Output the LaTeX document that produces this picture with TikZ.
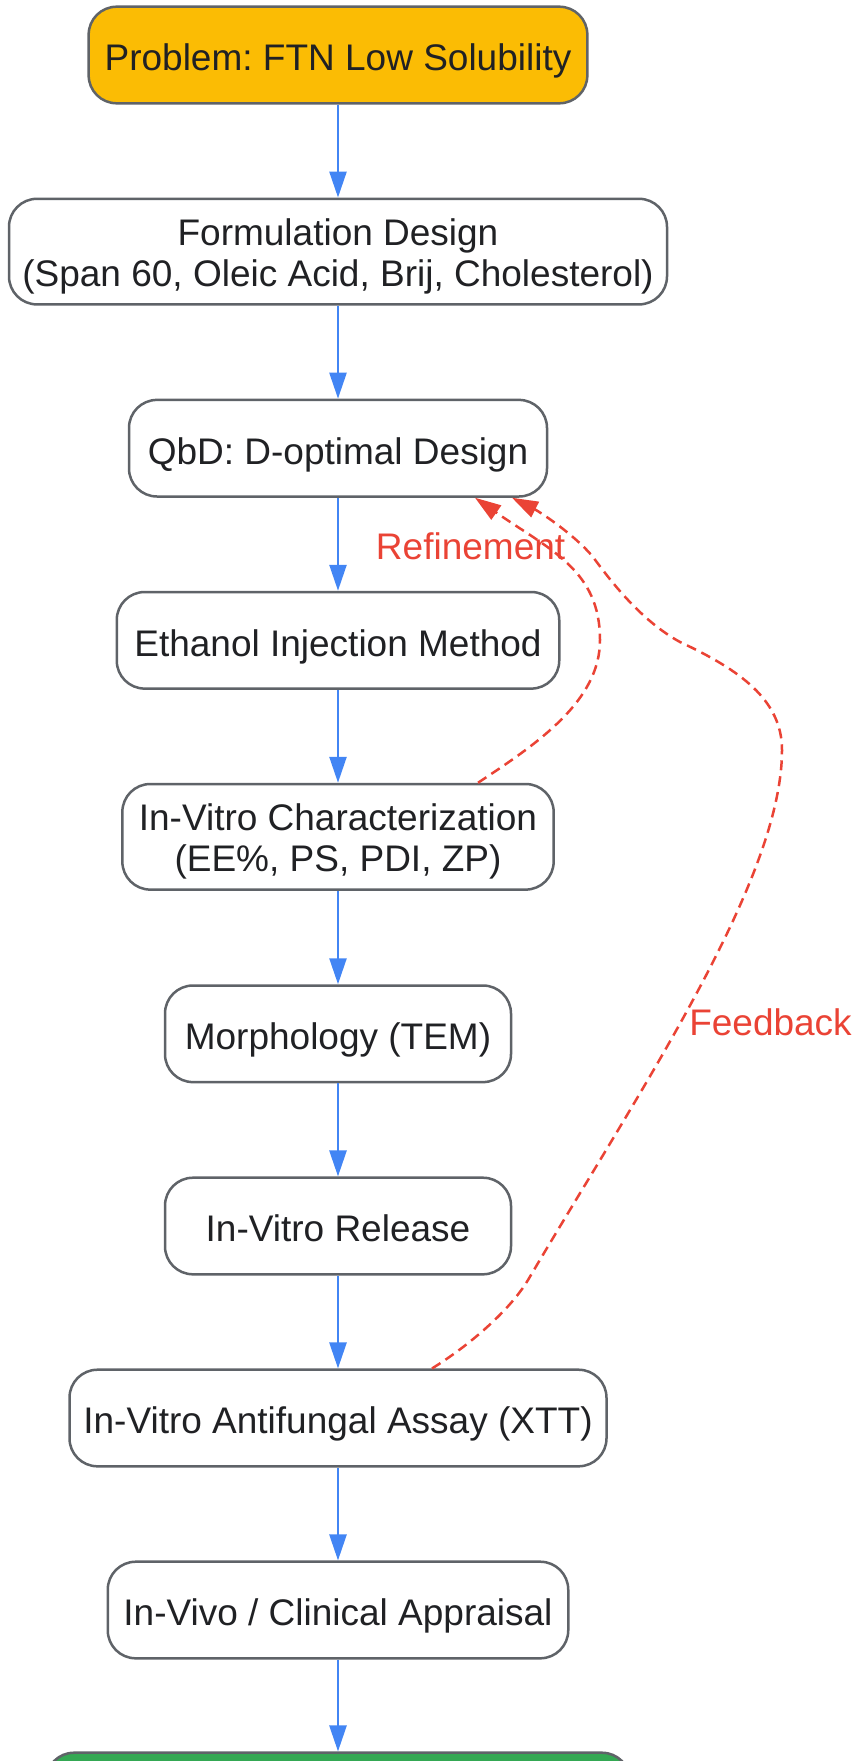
\documentclass[tikz,border=0pt]{standalone}
\usepackage{fontspec}
\setmainfont{Liberation Sans}
\usetikzlibrary{arrows.meta,calc}
\definecolor{gyellow}{HTML}{FBBC04}
\definecolor{ggreen}{HTML}{34A853}
\definecolor{gblue}{HTML}{4285F4}
\definecolor{gred}{HTML}{EA4335}
\definecolor{gborder}{HTML}{5F6368}
\definecolor{gtext}{HTML}{202124}
\frenchspacing
\begin{document}
\begin{tikzpicture}[x=1pt,y=-1pt,
  box/.style={draw=gborder, line width=2.5pt, rounded corners=28pt, fill=white, text=gtext,
    align=center, font=\fontsize{37}{40.5}\selectfont, inner sep=0pt, minimum height=96.6pt,
    text height=31.6pt, text depth=0pt},
  tall/.style={minimum height=105.6pt, text height=72.1pt, text depth=2.9pt},
  flow/.style={draw=gblue, line width=2.5pt, -{Triangle[length=26pt,width=17pt]}},
  fb/.style={draw=gred, line width=2.5pt, dash pattern=on 10pt off 6pt, -{Triangle[length=26pt,width=17pt]}},
  lbl/.style={text=gred, font=\fontsize{37}{40.5}\selectfont, inner sep=0pt}]
\useasboundingbox (0,0) rectangle (857,1761);
\clip (0,0) rectangle (857,1761);

\node[box, fill=gyellow, minimum width=498.7pt] (n1) at (338,55) {Problem: FTN Low Solubility};
\node[box, tall, minimum width=658pt] (n2) at (338,251.6) {Formulation Design\\(Span 60, Oleic Acid, Brij, Cholesterol)};
\node[box, minimum width=418pt] (n3) at (338,448.2) {QbD: D-optimal Design};
\node[box, minimum width=442.5pt] (n4) at (338,640.3) {Ethanol Injection Method};
\node[box, tall, minimum width=431.3pt] (n5) at (338,836.8) {In-Vitro Characterization\\(EE\%, PS, PDI, ZP)};
\node[box, minimum width=346pt] (n6) at (338,1033.8) {Morphology (TEM)};
\node[box, minimum width=346pt] (n7) at (338,1226) {In-Vitro Release};
\node[box, minimum width=537pt] (n8) at (338,1418) {In-Vitro Antifungal Assay (XTT)};
\node[box, minimum width=460.5pt] (n9) at (338,1610) {In-Vivo / Clinical Appraisal};
\node[box, fill=ggreen, minimum width=584pt] (n10) at (338,1801) {};

\draw[flow] (n1.south) -- (n2.north);
\draw[flow] (n2.south) -- (n3.north);
\draw[flow] (n3.south) -- (n4.north);
\draw[flow] (n4.south) -- (n5.north);
\draw[flow] (n5.south) -- (n6.north);
\draw[flow] (n6.south) -- (n7.north);
\draw[flow] (n7.south) -- (n8.north);
\draw[flow] (n8.south) -- (n9.north);
\draw[flow] (n9.south) -- (n10.north);

\draw[fb] ($(n5.north)+(140,0)$) .. controls (540,742) and (600,700) .. (600,640)
  .. controls (600,570) and (550,550) .. ($(n3.south)+(137,0)$);
\node[lbl] (refl) at (470.6,546) {Refinement};

\draw[fb] ($(n8.north)+(94,0)$) .. controls (470,1345) and (510,1310) .. (528,1280)
  .. controls (640,1090) and (782,880) .. (782,750)
  .. controls (782,700) and (740,670) .. (680,642)
  .. controls (640,620) and (610,580) .. (593,557)
  .. controls (575,535) and (540,512) .. ($(n3.south)+(174,0)$);
\node[lbl] (fbl) at (770.5,1022) {Feedback};
\end{tikzpicture}
\end{document}
